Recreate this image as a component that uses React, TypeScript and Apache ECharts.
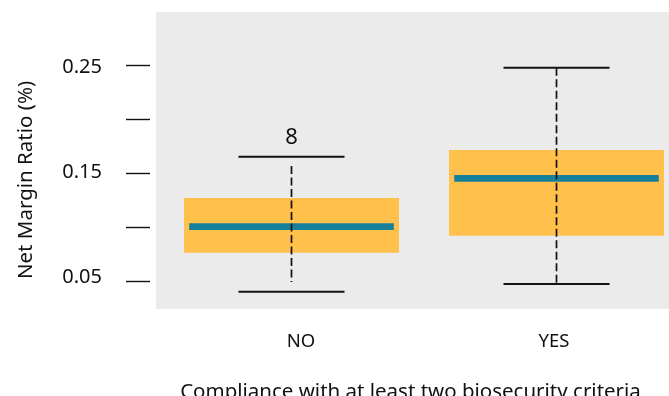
import React, { useEffect, useRef } from "react";
import * as echarts from "echarts";

const categories = ["NO", "YES"];
const positions = [1, 2];
const capLow = [0.0401, 0.0472];
const whiskerLow = [0.0491, 0.0472];
const q1 = [0.0762, 0.0919];
const median = [0.1003, 0.1451];
const q3 = [0.1269, 0.1713];
const whiskerHigh = [0.1565, 0.2475];
const capHigh = [0.1651, 0.2475];
const annotationX = [1];
const annotationY = [0.1852];
const annotationText = ["8"];
const yTickValues = [0.05, 0.1, 0.15, 0.2, 0.25];
const yLabelValues = [0.05, 0.15, 0.25];

const FONT = '"Noto Sans", "Open Sans", sans-serif';
const BOX = "#FFC04C";
const MED = "#167F99";
const INK = "#111111";

export default function App() {
  const ref = useRef<HTMLDivElement>(null);
  useEffect(() => {
    if (!ref.current) return;
    const chart = echarts.init(ref.current, null, { renderer: "svg" });
    const boxData = positions.map((p, i) => [
      p,
      capLow[i],
      whiskerLow[i],
      q1[i],
      median[i],
      q3[i],
      whiskerHigh[i],
      capHigh[i],
    ]);
    const annData = annotationX.map((x, i) => [x, annotationY[i], annotationText[i]]);
    const boxHalf = 0.4057;
    const medHalf = 0.386;
    const capHalf = 0.2;
    chart.setOption({
      animation: false,
      grid: {
        left: 156,
        right: 0,
        top: 12,
        bottom: 87,
        show: true,
        backgroundColor: "#EBEBEB",
        borderWidth: 0,
      },
      xAxis: {
        type: "value",
        min: 0.4887,
        max: 2.4245,
        axisLine: { show: false },
        axisTick: { show: false },
        splitLine: { show: false },
        axisLabel: {
          customValues: positions,
          margin: 21,
          fontFamily: FONT,
          fontSize: 18.5,
          color: INK,
          formatter: (v: number) => {
            const i = positions.indexOf(v);
            if (i < 0) return "";
            return i === 0 ? "{a|" + categories[i] + "}" : "{b|" + categories[i] + "}";
          },
          rich: {
            a: { padding: [0, 0, 0, 19], fontFamily: FONT, fontSize: 18.5, color: INK },
            b: { padding: [0, 5, 0, 0], fontFamily: FONT, fontSize: 18.5, color: INK },
          },
        },
      },
      yAxis: [
        {
          type: "value",
          min: 0.02407,
          max: 0.29907,
          offset: 6,
          axisLine: { show: false },
          splitLine: { show: false },
          axisTick: {
            show: true,
            customValues: yTickValues,
            length: 24,
            lineStyle: { color: INK, width: 1.4 },
          },
          axisLabel: { show: false },
        },
        {
          type: "value",
          position: "left",
          min: 0.0184,
          max: 0.3011,
          offset: 6,
          axisLine: { show: false },
          splitLine: { show: false },
          axisTick: { show: false },
          axisLabel: {
            customValues: yLabelValues,
            margin: 48,
            fontFamily: FONT,
            fontSize: 20,
            color: INK,
            formatter: (v: number) => v.toFixed(2),
          },
        },
      ],
      graphic: [
        {
          type: "text",
          x: 24,
          y: 180,
          rotation: Math.PI / 2,
          style: {
            text: "Net Margin Ratio (%)",
            font: "20.5px " + FONT,
            fill: INK,
            align: "center",
            verticalAlign: "middle",
          },
        },
        {
          type: "text",
          x: 410.5,
          y: 390,
          style: {
            text: "Compliance with at least two biosecurity criteria",
            font: "20.5px " + FONT,
            fill: INK,
            align: "center",
            verticalAlign: "middle",
          },
        },
      ],
      series: [
        {
          type: "custom",
          clip: false,
          yAxisIndex: 0,
          encode: { x: 0, y: [1, 2, 3, 4, 5, 6, 7] },
          data: boxData,
          renderItem: (params: any, api: any) => {
            const x = api.value(0);
            const cl = api.value(1);
            const wl = api.value(2);
            const b1 = api.value(3);
            const md = api.value(4);
            const b3 = api.value(5);
            const wh = api.value(6);
            const ch = api.value(7);
            const tl = api.coord([x - boxHalf, b3]);
            const br = api.coord([x + boxHalf, b1]);
            const ml = api.coord([x - medHalf, md]);
            const mr = api.coord([x + medHalf, md]);
            const wTop = api.coord([x, wh]);
            const wBot = api.coord([x, wl]);
            const cTopL = api.coord([x - capHalf, ch]);
            const cTopR = api.coord([x + capHalf, ch]);
            const cBotL = api.coord([x - capHalf, cl]);
            const cBotR = api.coord([x + capHalf, cl]);
            return {
              type: "group",
              children: [
                {
                  type: "rect",
                  shape: { x: tl[0], y: tl[1], width: br[0] - tl[0], height: br[1] - tl[1] },
                  style: { fill: BOX },
                },
                {
                  type: "rect",
                  shape: { x: ml[0], y: ml[1] - 3.4, width: mr[0] - ml[0], height: 6.8 },
                  style: { fill: MED },
                },
                {
                  type: "line",
                  shape: { x1: wTop[0], y1: wTop[1], x2: wBot[0], y2: wBot[1] },
                  style: { stroke: INK, lineWidth: 1.7, lineDash: [8, 3.5] },
                },
                {
                  type: "line",
                  shape: { x1: cTopL[0], y1: cTopL[1], x2: cTopR[0], y2: cTopR[1] },
                  style: { stroke: INK, lineWidth: 2 },
                },
                {
                  type: "line",
                  shape: { x1: cBotL[0], y1: cBotL[1], x2: cBotR[0], y2: cBotR[1] },
                  style: { stroke: INK, lineWidth: 2 },
                },
              ],
            };
          },
        },
        {
          type: "custom",
          clip: false,
          yAxisIndex: 0,
          encode: { x: 0, y: 1 },
          data: annData,
          renderItem: (params: any, api: any) => {
            const p = api.coord([api.value(0), api.value(1)]);
            return {
              type: "text",
              x: p[0],
              y: p[1],
              style: {
                text: String(annotationText[params.dataIndex]),
                font: "22px " + FONT,
                fill: INK,
                align: "center",
                verticalAlign: "middle",
              },
            };
          },
        },
      ],
    });
    return () => chart.dispose();
  }, []);
  return (
    <div
      ref={ref}
      style={{ position: "fixed", left: 0, top: 0, width: 669, height: 396 }}
    />
  );
}
